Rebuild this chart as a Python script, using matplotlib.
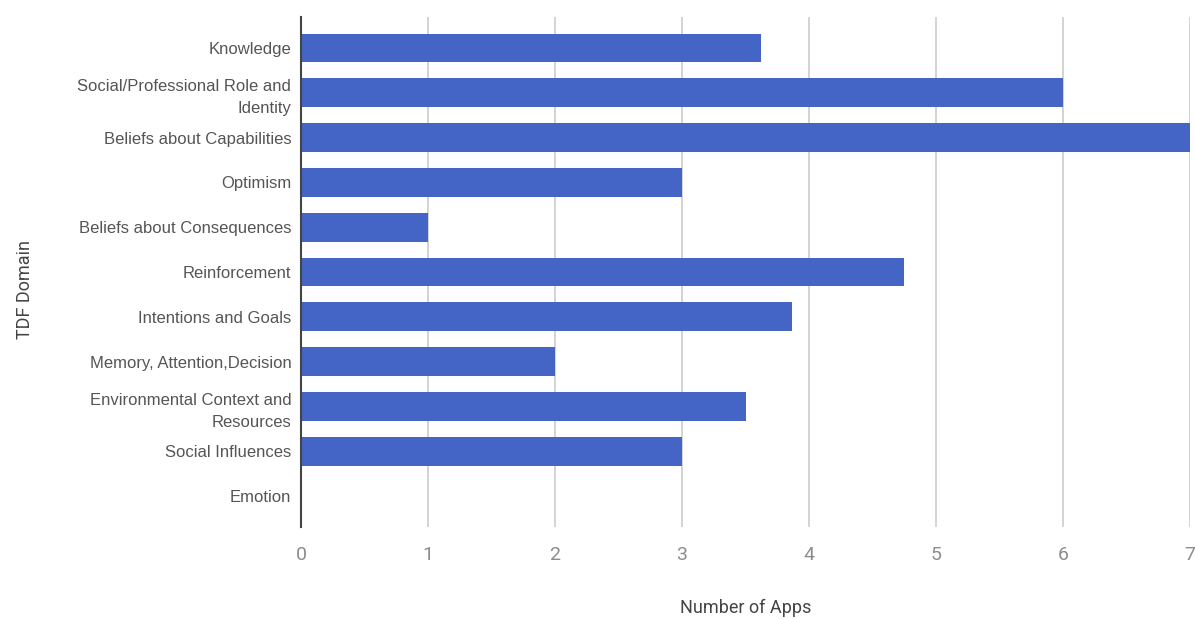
import matplotlib
matplotlib.use('Agg')
import matplotlib.pyplot as plt

# TDF domains and number of apps covering each one
domains = ['Knowledge', 'Social/Professional Role and\nIdentity', 'Beliefs about Capabilities',
           'Optimism', 'Beliefs about Consequences', 'Reinforcement', 'Intentions and Goals',
           'Memory, Attention,Decision', 'Environmental Context and\nResources',
           'Social Influences', 'Emotion']
apps = [3.62, 6, 7, 3, 1, 4.75, 3.87, 2, 3.5, 3, 0]
xticks = [0, 1, 2, 3, 4, 5, 6, 7]

plt.rcParams['font.family'] = ['Roboto', 'DejaVu Sans']

fig = plt.figure(figsize=(11.95, 6.19), dpi=100)
ax = fig.add_axes([0.2519, 0.1486, 0.7439, 0.8239])

ypos = list(range(len(domains)))
ax.barh(ypos, apps, height=0.64, color='#4565c6', zorder=3)

ax.set_xlim(0, 7)
ax.set_ylim(10.69, -0.69)
ax.set_xticks(xticks)
ax.set_yticks(ypos)
ax.set_yticklabels(domains, fontsize=12, color='#555555', linespacing=1.55,
                   family=['Liberation Sans', 'DejaVu Sans'])
ax.set_xticklabels([str(t) for t in xticks], fontsize=14, color='#8c8c8c')
ax.tick_params(axis='both', length=0)
ax.tick_params(axis='x', pad=14)
ax.tick_params(axis='y', pad=7)

ax.grid(axis='x', color='#cccccc', linewidth=1.2, zorder=0)
for s in ['top', 'right', 'bottom']:
    ax.spines[s].set_visible(False)
ax.spines['left'].set_color('#444444')
ax.spines['left'].set_linewidth(1.5)
ax.spines['left'].set_zorder(4)

fig.text(0.624, 0.004, 'Number of Apps', ha='center', va='bottom', fontsize=13, color='#444444')
fig.text(0.021, 0.532, 'TDF Domain', ha='center', va='center', rotation=90, fontsize=13, color='#444444')

fig.savefig('out.png', dpi=100)
